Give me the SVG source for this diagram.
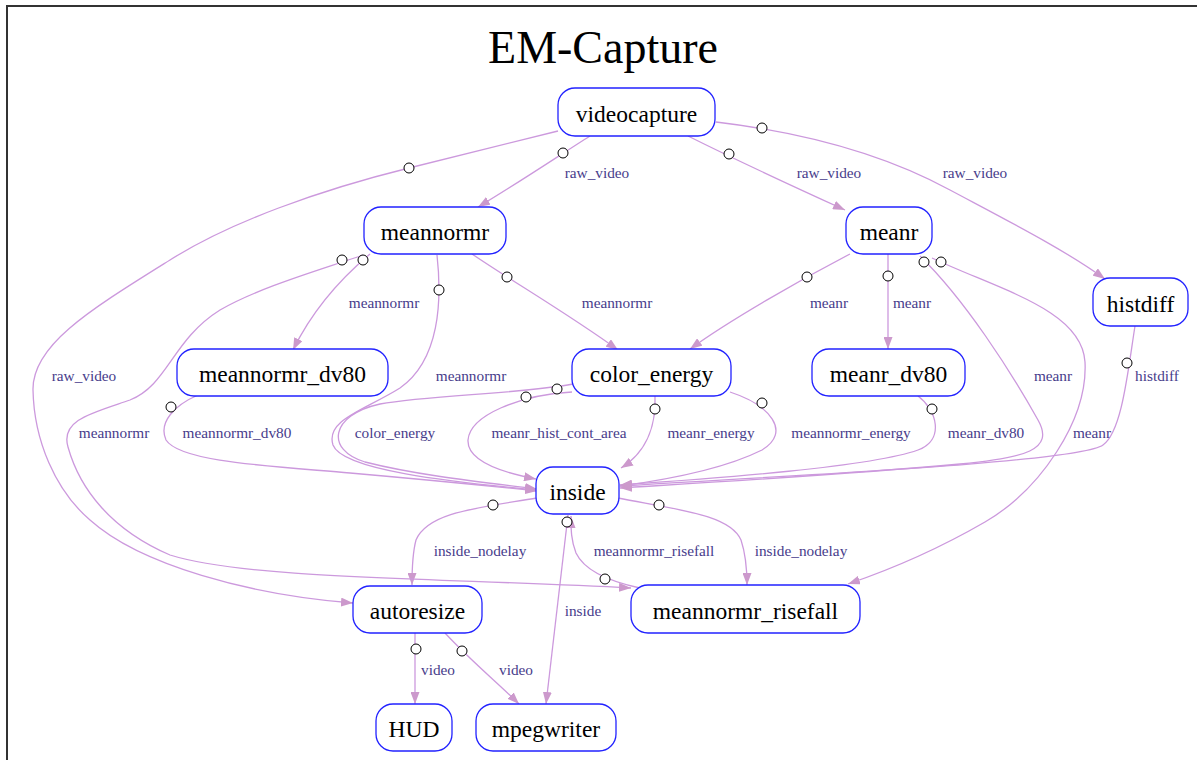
<svg xmlns="http://www.w3.org/2000/svg" width="1197" height="760" viewBox="0 0 1197 760">
<style>
.frame{fill:none;stroke:#333;stroke-width:2}
.title{font-family:"Liberation Serif",serif;font-size:46px;fill:#000;text-anchor:middle}
.node rect{fill:#fff;stroke:#2222ff;stroke-width:1.3}
.node text{font-family:"Liberation Serif",serif;font-size:23.5px;fill:#000;text-anchor:middle}
.edge{fill:none;stroke:#cc99dd;stroke-width:1.3;marker-end:url(#arr)}
.port{fill:#fff;stroke:#000;stroke-width:1}
.lbl{font-family:"Liberation Serif",serif;font-size:15.3px;fill:#473c8b;text-anchor:middle}
</style>
<defs>
<marker id="arr" markerUnits="userSpaceOnUse" markerWidth="12" markerHeight="9" refX="12" refY="4.5" orient="auto">
<path d="M0,0 L12,4.5 L0,9 z" fill="#cc99cc"/>
</marker>
</defs>
<rect class="frame" x="7" y="6" width="1260" height="800"/>
<text class="title" x="603" y="63">EM-Capture</text>
<g id="connectors">
<path class="edge" d="M590,136 C560,155 515,185 478,207"/>
<path class="edge" d="M688,136 C730,157 790,185 845,210"/>
<path class="edge" d="M716,122 C800,132 880,152 950,190 C1010,222 1065,250 1105,279"/>
<path class="edge" d="M558,131 C500,145 450,158 409,168 C320,190 230,222 170,260 C90,310 32,345 33,390 C34,440 55,490 90,520 C140,565 250,595 353,603"/>
<path class="edge" d="M370,254 C345,275 315,305 293,350"/>
<path class="edge" d="M472,254 C510,280 570,315 618,350"/>
<path class="edge" d="M437,255 C442,300 440,360 400,388 C365,410 325,420 333,445 C342,470 450,482 537,490"/>
<path class="edge" d="M573,384 C520,394 430,395 380,404 C330,415 325,450 365,462 C420,476 490,483 537,489"/>
<path class="edge" d="M572,392 C520,395 470,415 468,440 C467,460 500,472 536,479"/>
<path class="edge" d="M198,395 C175,405 158,422 166,440 C180,462 270,466 350,473 C430,480 490,486 537,491"/>
<path class="edge" d="M850,254 C800,280 730,320 690,349"/>
<path class="edge" d="M888,254 L888,349"/>
<path class="edge" d="M920,256 C965,300 1010,370 1038,420 C1055,450 1025,458 960,464 C840,475 700,483 620,488"/>
<path class="edge" d="M932,258 C1000,290 1082,310 1085,362 C1088,420 1040,490 985,522 C940,548 895,568 848,584"/>
<path class="edge" d="M1135,326 C1128,370 1122,432 1103,445 C1080,462 800,475 620,486"/>
<path class="edge" d="M918,396 C937,410 945,440 918,450 C870,467 720,478 620,485"/>
<path class="edge" d="M655,396 C656,420 650,450 621,468"/>
<path class="edge" d="M730,392 C770,405 792,432 762,450 C722,470 665,480 620,486"/>
<path class="edge" d="M537,498 C478,508 428,512 416,540 C412,555 412,570 412,585"/>
<path class="edge" d="M618,498 C680,510 730,515 741,540 C746,555 747,570 747,585"/>
<path class="edge" d="M640,588 C612,582 585,572 576,553 C571,540 571,530 571,516"/>
<path class="edge" d="M568,515 L546,704"/>
<path class="edge" d="M415,633 L415,704"/>
<path class="edge" d="M445,633 C470,660 500,685 519,704"/>
<path class="edge" d="M363,255 C320,270 260,287 220,310 C172,340 168,385 130,400 C92,413 60,420 68,447 C80,490 112,530 170,555 C250,580 450,578 631,588"/>
<circle class="port" cx="563" cy="153" r="5"/>
<circle class="port" cx="729" cy="154" r="5"/>
<circle class="port" cx="762" cy="128" r="5"/>
<circle class="port" cx="409" cy="168" r="5"/>
<circle class="port" cx="342" cy="260" r="5"/>
<circle class="port" cx="363" cy="260" r="5"/>
<circle class="port" cx="439" cy="290" r="5"/>
<circle class="port" cx="507" cy="277" r="5"/>
<circle class="port" cx="807" cy="277" r="5"/>
<circle class="port" cx="888" cy="276" r="5"/>
<circle class="port" cx="924" cy="262" r="5"/>
<circle class="port" cx="941" cy="262" r="5"/>
<circle class="port" cx="1127" cy="363" r="5"/>
<circle class="port" cx="171" cy="407" r="5"/>
<circle class="port" cx="526" cy="397" r="5"/>
<circle class="port" cx="557" cy="389" r="5"/>
<circle class="port" cx="655" cy="409" r="5"/>
<circle class="port" cx="762" cy="403" r="5"/>
<circle class="port" cx="932" cy="409" r="5"/>
<circle class="port" cx="493" cy="505" r="5"/>
<circle class="port" cx="659" cy="505" r="5"/>
<circle class="port" cx="567" cy="522" r="5"/>
<circle class="port" cx="605" cy="579" r="5"/>
<circle class="port" cx="416" cy="649" r="5"/>
<circle class="port" cx="462" cy="651" r="5"/>
<text class="lbl" x="597" y="178">raw_video</text>
<text class="lbl" x="829" y="178">raw_video</text>
<text class="lbl" x="975" y="178">raw_video</text>
<text class="lbl" x="84" y="381">raw_video</text>
<text class="lbl" x="384" y="308">meannormr</text>
<text class="lbl" x="617" y="308">meannormr</text>
<text class="lbl" x="471" y="381">meannormr</text>
<text class="lbl" x="114" y="438">meannormr</text>
<text class="lbl" x="237" y="438">meannormr_dv80</text>
<text class="lbl" x="395" y="438">color_energy</text>
<text class="lbl" x="559" y="438">meanr_hist_cont_area</text>
<text class="lbl" x="711" y="438">meanr_energy</text>
<text class="lbl" x="851" y="438">meannormr_energy</text>
<text class="lbl" x="986" y="438">meanr_dv80</text>
<text class="lbl" x="1092" y="438">meanr</text>
<text class="lbl" x="1053" y="381">meanr</text>
<text class="lbl" x="1157" y="381">histdiff</text>
<text class="lbl" x="829" y="308">meanr</text>
<text class="lbl" x="912" y="308">meanr</text>
<text class="lbl" x="480" y="556">inside_nodelay</text>
<text class="lbl" x="801" y="556">inside_nodelay</text>
<text class="lbl" x="654" y="556">meannormr_risefall</text>
<text class="lbl" x="583" y="616">inside</text>
<text class="lbl" x="438" y="675">video</text>
<text class="lbl" x="516" y="675">video</text>
</g>
<g id="videocapture" class="node"><rect x="558" y="88" width="157" height="48" rx="17"/><text x="636.5" y="121.5">videocapture</text></g>
<g id="meannormr" class="node"><rect x="364" y="207" width="142" height="47" rx="17"/><text x="435" y="240">meannormr</text></g>
<g id="meanr" class="node"><rect x="846" y="207" width="86" height="47" rx="17"/><text x="889" y="240">meanr</text></g>
<g id="histdiff" class="node"><rect x="1093" y="278" width="95" height="48" rx="17"/><text x="1140.5" y="311.5">histdiff</text></g>
<g id="meannormr_dv80" class="node"><rect x="177" y="349" width="211" height="47" rx="17"/><text x="282.5" y="382">meannormr_dv80</text></g>
<g id="color_energy" class="node"><rect x="572" y="349" width="159" height="47" rx="17"/><text x="651.5" y="382">color_energy</text></g>
<g id="meanr_dv80" class="node"><rect x="812" y="349" width="153" height="47" rx="17"/><text x="888.5" y="382">meanr_dv80</text></g>
<g id="inside" class="node"><rect x="536" y="467" width="83" height="47" rx="17"/><text x="577.5" y="500">inside</text></g>
<g id="autoresize" class="node"><rect x="353" y="586" width="129" height="47" rx="17"/><text x="417.5" y="619">autoresize</text></g>
<g id="meannormr_risefall" class="node"><rect x="631" y="585" width="229" height="48" rx="17"/><text x="745.5" y="618.5">meannormr_risefall</text></g>
<g id="HUD" class="node"><rect x="376" y="704" width="76" height="47" rx="17"/><text x="414" y="737">HUD</text></g>
<g id="mpegwriter" class="node"><rect x="476" y="704" width="140" height="47" rx="17"/><text x="546" y="737">mpegwriter</text></g>
</svg>
